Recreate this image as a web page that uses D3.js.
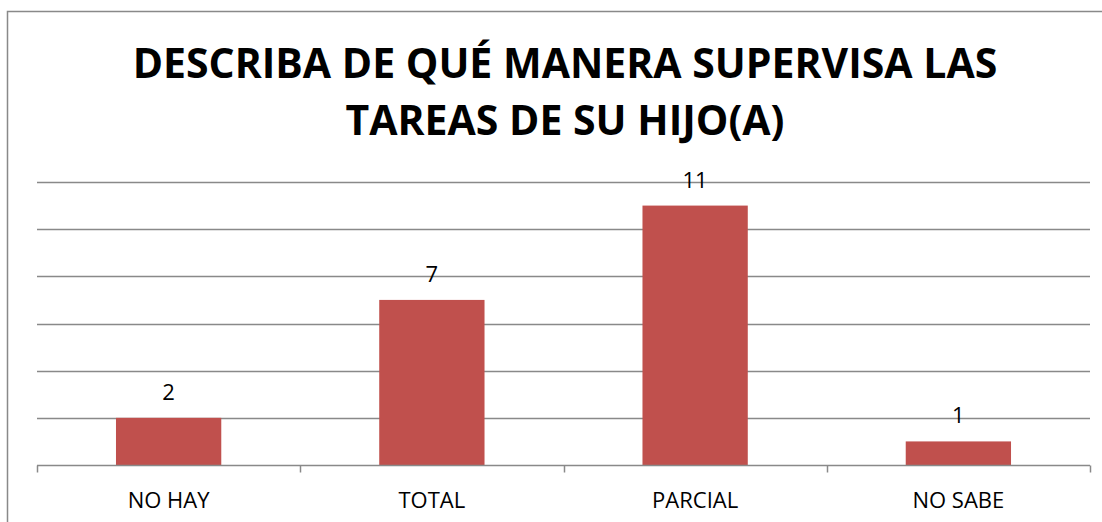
<!DOCTYPE html>
<html lang="es">
  <head>
    <meta charset="UTF-8" />
    <title>Supervisión de tareas</title>
    <script src="https://d3js.org/d3.v7.min.js"></script>
    <style>
      body {
        margin: 0;
        background: #fff;
        font-family: "Open Sans", Arial, sans-serif;
      }
      svg {
        display: block;
      }
      .title {
        font-weight: bold;
        font-size: 41px;
        fill: #000;
      }
      .label {
        font-size: 22px;
        fill: #000;
      }
    </style>
  </head>
  <body>
    <svg width="1102" height="522"></svg>
    <script>
      // data
      const categories = ["NO HAY", "TOTAL", "PARCIAL", "NO SABE"];
      const values = [2, 7, 11, 1];
      const yTicks = [0, 2, 4, 6, 8, 10, 12];
      const titleLines = ["DESCRIBA DE QUÉ MANERA SUPERVISA LAS", "TAREAS DE SU HIJO(A)"];

      const svg = d3.select("svg");
      const margin = { top: 182, left: 37, right: 12, bottom: 57 };
      const width = 1102 - margin.left - margin.right;
      const height = 522 - margin.top - margin.bottom;

      // chart frame
      svg.append("rect")
        .attr("x", 7.5)
        .attr("y", 11.5)
        .attr("width", 1110)
        .attr("height", 530)
        .attr("fill", "none")
        .attr("stroke", "#898989")
        .attr("stroke-width", 1.5);

      // title
      const title = svg.append("text")
        .attr("class", "title")
        .attr("text-anchor", "middle");
      title.selectAll("tspan")
        .data(titleLines)
        .enter()
        .append("tspan")
        .attr("x", 565)
        .attr("y", (d, i) => 78 + i * 57)
        .text((d) => d);

      const g = svg.append("g")
        .attr("transform", `translate(${margin.left},${margin.top})`);

      const x = d3.scaleBand()
        .domain(categories)
        .range([0, width])
        .paddingInner(0.6)
        .paddingOuter(0.3);

      const y = d3.scaleLinear().domain([0, 12]).range([height, 0]);

      // gridlines
      g.append("g")
        .selectAll("line")
        .data(yTicks.slice(1))
        .enter()
        .append("line")
        .attr("x1", 0)
        .attr("x2", width)
        .attr("y1", (d) => Math.round(y(d)) + 0.5)
        .attr("y2", (d) => Math.round(y(d)) + 0.5)
        .attr("stroke", "#898989")
        .attr("stroke-width", 1.5);

      // bars
      g.selectAll(".bar")
        .data(values)
        .enter()
        .append("rect")
        .attr("class", "bar")
        .attr("x", (d, i) => x(categories[i]))
        .attr("y", (d) => y(d))
        .attr("width", x.bandwidth())
        .attr("height", (d) => height - y(d))
        .attr("fill", "#C0504D");

      // category axis, ticks sit between the categories
      const bounds = d3.range(categories.length + 1).map((i) => i * x.step());
      const axis = g.append("g").attr("transform", `translate(0,${Math.round(height) + 0.5})`);
      axis.append("line")
        .attr("x1", 0)
        .attr("x2", width)
        .attr("stroke", "#898989")
        .attr("stroke-width", 1.5);
      axis.selectAll(".tick")
        .data(bounds)
        .enter()
        .append("line")
        .attr("x1", (d) => Math.round(d) + 0.5)
        .attr("x2", (d) => Math.round(d) + 0.5)
        .attr("y1", 0)
        .attr("y2", 7)
        .attr("stroke", "#898989")
        .attr("stroke-width", 1.5);
      axis.selectAll(".label")
        .data(categories)
        .enter()
        .append("text")
        .attr("class", "label")
        .attr("text-anchor", "middle")
        .attr("x", (d) => x(d) + x.bandwidth() / 2)
        .attr("y", 42)
        .text((d) => d);

      // value labels
      g.selectAll(".value")
        .data(values)
        .enter()
        .append("text")
        .attr("class", "label")
        .attr("text-anchor", "middle")
        .attr("x", (d, i) => x(categories[i]) + x.bandwidth() / 2)
        .attr("y", (d) => y(d) - 18)
        .text((d) => d);
    </script>
  </body>
</html>
